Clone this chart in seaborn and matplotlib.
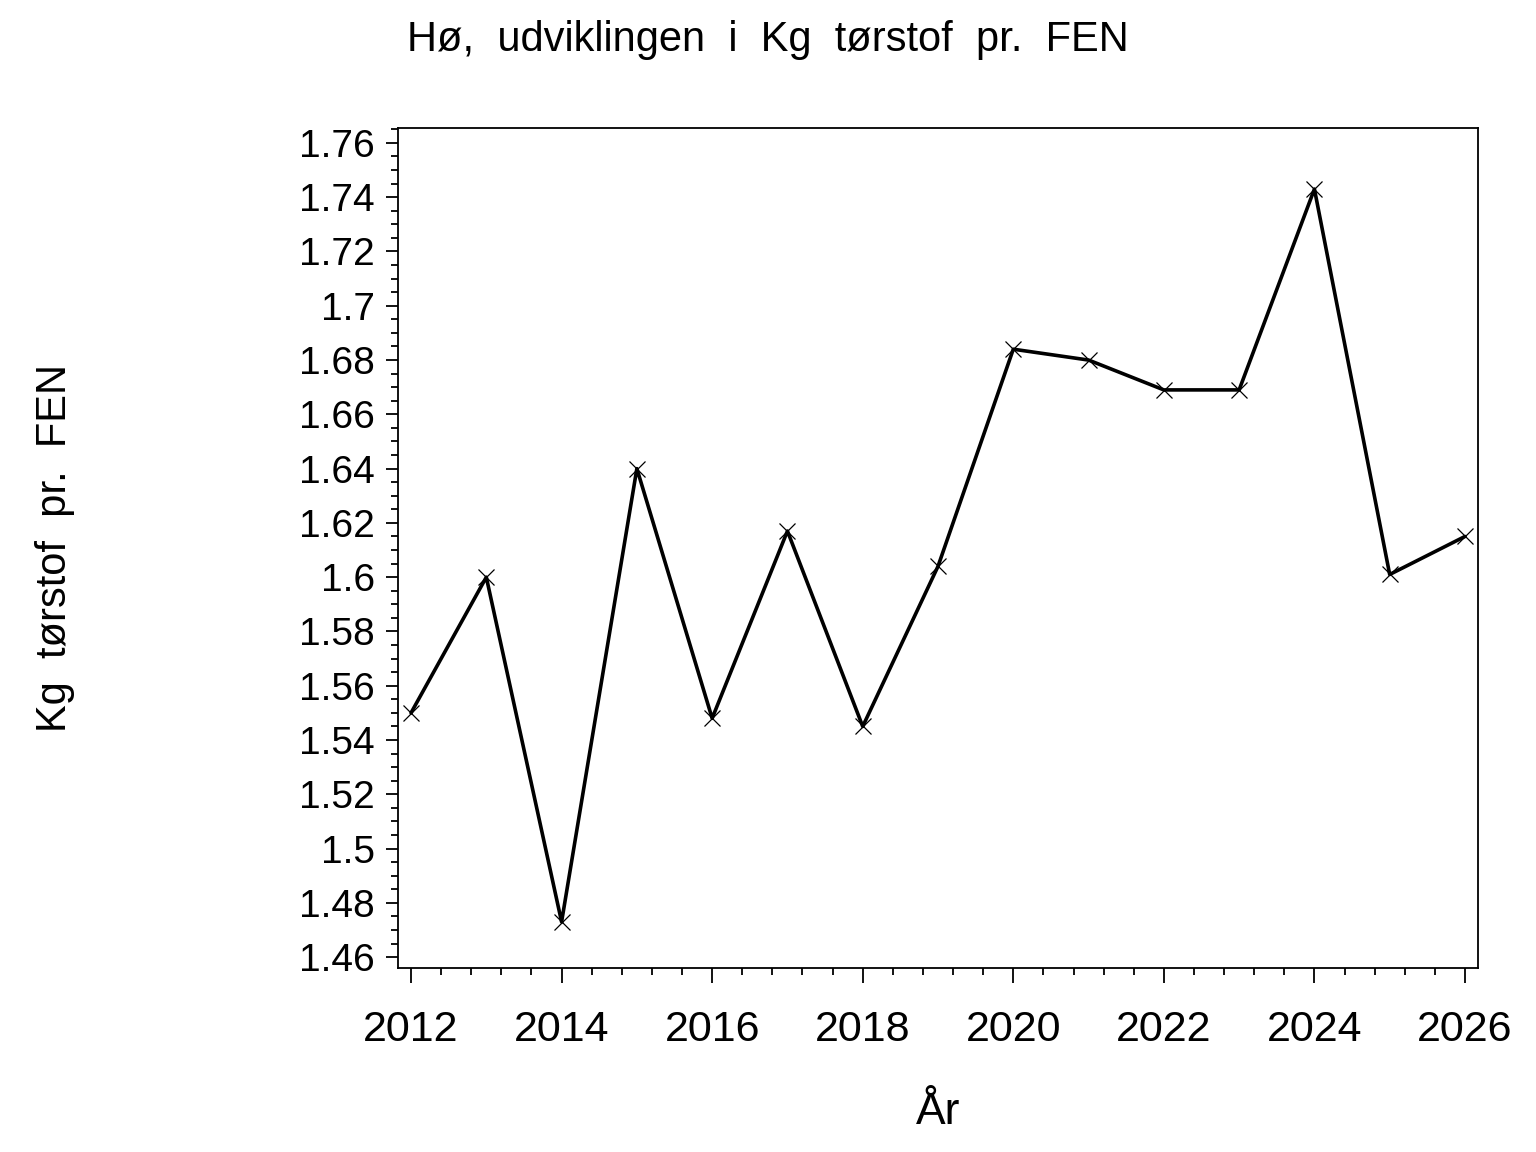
import matplotlib
matplotlib.use("Agg")
import matplotlib.pyplot as plt
import seaborn as sns
import pandas as pd
from matplotlib.ticker import MultipleLocator, FuncFormatter

years = [2012, 2013, 2014, 2015, 2016, 2017, 2018, 2019, 2020, 2021, 2022, 2023, 2024, 2025, 2026]
values = [1.550, 1.600, 1.473, 1.640, 1.548, 1.617, 1.545, 1.604, 1.684, 1.680, 1.669, 1.669, 1.743, 1.601, 1.615]

title = "Hø,  udviklingen  i  Kg  tørstof  pr.  FEN"
xlabel = "År"
ylabel = "Kg  tørstof  pr.  FEN"

sns.set_style("ticks")
plt.rcParams['font.family'] = ['Liberation Sans', 'DejaVu Sans']
plt.rcParams['text.color'] = 'black'
plt.rcParams['xtick.color'] = 'black'
plt.rcParams['ytick.color'] = 'black'
plt.rcParams['xtick.labelcolor'] = 'black'
plt.rcParams['ytick.labelcolor'] = 'black'

df = pd.DataFrame({"year": years, "value": values})

fig = plt.figure(figsize=(15.36, 11.52), dpi=100)
ax = fig.add_axes([398/1536, 1-968/1152, (1478-398)/1536, (968-128)/1152])

sns.lineplot(data=df, x="year", y="value", ax=ax, color="black", linewidth=2.6,
             marker="x", markersize=11, markeredgewidth=0.9, markeredgecolor="black")

ax.set_xlim(2011.827, 2026.173)
ax.set_ylim(1.456, 1.7655)

ax.xaxis.set_major_locator(MultipleLocator(2))
ax.xaxis.set_minor_locator(MultipleLocator(0.4))
ax.yaxis.set_major_locator(MultipleLocator(0.02))
ax.yaxis.set_minor_locator(MultipleLocator(0.005))
ax.yaxis.set_major_formatter(FuncFormatter(lambda v, p: f"{round(v, 3):g}"))
ax.xaxis.set_major_formatter(FuncFormatter(lambda v, p: f"{int(round(v))}"))

for s in ax.spines.values():
    s.set_visible(True)
    s.set_linewidth(1.3)
    s.set_color("black")

ax.tick_params(axis="x", which="major", length=11, width=1.3, pad=19, labelsize=31, direction="out", colors="black")
ax.tick_params(axis="x", which="minor", length=5, width=1.3, direction="out", colors="black")
ax.tick_params(axis="y", which="major", length=8.5, width=1.3, pad=8, labelsize=28, direction="out", colors="black")
ax.tick_params(axis="y", which="minor", length=5, width=1.3, direction="out", colors="black")

ax.set_xlabel("")
ax.set_ylabel("")
fig.text(938/1536, 1-1112/1152, xlabel, ha="center", va="center", fontsize=32, color="black")
fig.text(55/1536, 1-548/1152, ylabel, ha="center", va="center", rotation=90, fontsize=30, color="black")
fig.text(768/1536, 1-40/1152, title, ha="center", va="center", fontsize=30, color="black")

fig.savefig("out.png", dpi=100, facecolor="white")
